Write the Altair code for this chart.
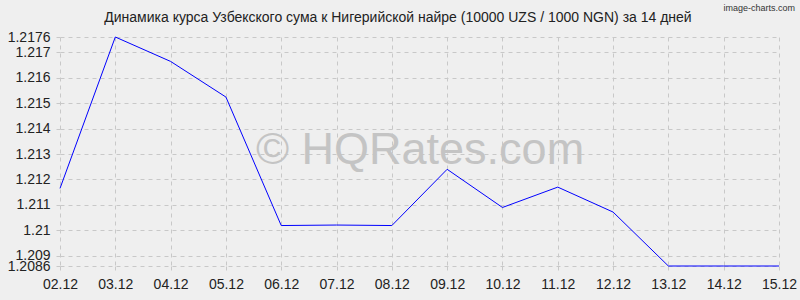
import altair as alt
import pandas as pd

dates = ["02.12", "03.12", "04.12", "05.12", "06.12", "07.12", "08.12",
         "09.12", "10.12", "11.12", "12.12", "13.12", "14.12", "15.12"]
rates = [1.21165, 1.2176, 1.21664, 1.21524, 1.21019, 1.21021, 1.21019,
         1.2124, 1.2109, 1.2117, 1.21072, 1.2086, 1.2086, 1.2086]
y_ticks = [1.2086, 1.209, 1.21, 1.211, 1.212, 1.213, 1.214, 1.215, 1.216, 1.217, 1.2176]

title_text = "Динамика курса Узбекского сума к Нигерийской найре (10000 UZS / 1000 NGN) за 14 дней"
watermark = "© HQRates.com"
credit_text = "image-charts.com"

df = pd.DataFrame({"date": dates, "rate": rates})

FONT = "Liberation Sans"
GRID = "#c8c8c8"

x_enc = alt.X("date:O", sort=dates,
              scale=alt.Scale(type="point", padding=0),
              axis=alt.Axis(title=None, labelAngle=0, grid=True, gridDash=[4, 4],
                            gridColor=GRID, domain=False, ticks=True, tickSize=8,
                            tickDash=[4, 4], tickColor=GRID, labelFontSize=14,
                            labelFont=FONT, labelColor="#222222", labelPadding=3))
y_enc = alt.Y("rate:Q", scale=alt.Scale(domain=[1.2086, 1.2176], nice=False, zero=False),
              axis=alt.Axis(title=None, values=y_ticks, labelExpr="'' + datum.value",
                            grid=True, gridDash=[4, 4], gridColor=GRID, domain=False,
                            ticks=True, tickSize=4, tickDash=[4, 4], tickColor=GRID,
                            labelFontSize=14, labelFont=FONT, labelColor="#222222",
                            labelPadding=6, labelOverlap=False, labelBound=False))

line = alt.Chart(df).mark_line(color="#0000ff", strokeWidth=1).encode(x=x_enc, y=y_enc)

wm = alt.Chart(pd.DataFrame({"t": [watermark]})).mark_text(
    font=FONT, fontSize=45, color="#c4c4c4", align="center", baseline="middle"
).encode(text="t:N", x=alt.value(360), y=alt.value(113))

credit = alt.Chart(pd.DataFrame({"t": [credit_text]})).mark_text(
    font=FONT, fontSize=9, color="#333333", align="right", baseline="middle"
).encode(text="t:N", x=alt.value(735), y=alt.value(-29))

title = alt.Chart(pd.DataFrame({"t": [title_text]})).mark_text(
    font=FONT, fontSize=14, color="#222222", align="center", baseline="middle"
).encode(text="t:N", x=alt.value(338), y=alt.value(-19))

chart = alt.layer(line, wm, credit, title).properties(
    width=719, height=229,
    background="#efefef",
    padding={"left": 60, "top": 37, "right": 21, "bottom": 34},
    autosize=alt.AutoSizeParams(type="none"),
).configure_view(stroke=None)

chart.save("out.html", embed_options={"renderer": "svg", "actions": False})
